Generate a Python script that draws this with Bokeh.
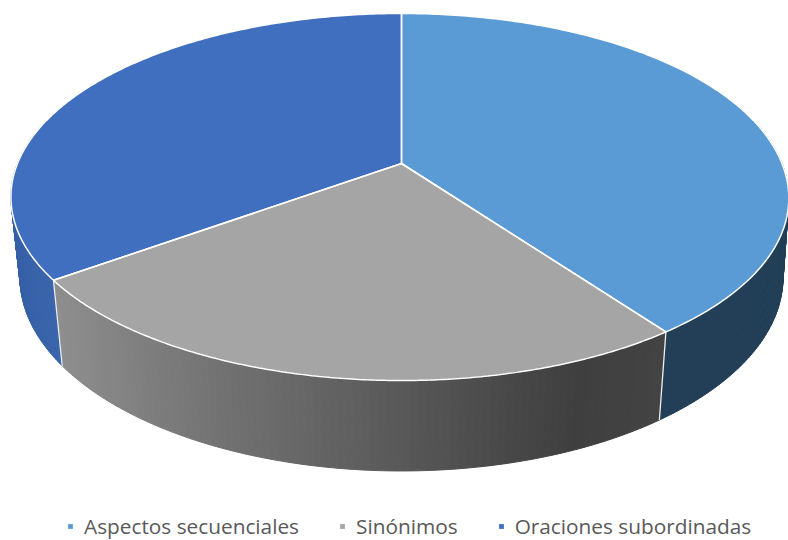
import numpy as np
from bokeh.plotting import figure
from bokeh.models import Legend, LegendItem, Range1d
from bokeh.embed import file_html
from bokeh.resources import INLINE

categories = ["Aspectos secuenciales", "Sinónimos", "Oraciones subordinadas"]
values = [40, 25, 35]
top_colors = ["#5B9BD5", "#A5A5A5", "#416FBF"]
# side shading: screen x stops and the colour at each stop, per slice
side_x = [[660, 790], [62, 150, 218, 376, 495, 574, 660], [10, 62]]
side_c = [["#223F57", "#223F57"],
          ["#8E8E8E", "#7E7E7E", "#737373", "#5C5C5C", "#4A4A4A", "#3F3F3F", "#434343"],
          ["#3660A6", "#3A64AB"]]

# perspective pie model
CX, CY = 401.0, 163.0
A, B, K = 384.0, 177.4, 0.1826
DEPTH, E = 81.0, 0.023

def top(t):
    u, v = np.sin(t), -np.cos(t)
    w = 1 - K * v
    squeeze = 3.5 * np.clip(u, 0, 1) ** 4
    return CX + A * u / w - squeeze, CY + B * v / w

def bottom(t):
    u, v = np.sin(t), -np.cos(t)
    w = 1 - K * v + E
    return CX + A * u / w, CY + (B * v + DEPTH) / w

def rgb(h):
    return [int(h[i:i + 2], 16) for i in (1, 3, 5)]

def shade(i, x):
    cs = np.array([rgb(c) for c in side_c[i]], float)
    c = [np.interp(x, side_x[i], cs[:, k]) for k in range(3)]
    return "#%02x%02x%02x" % tuple(int(round(v)) for v in c)

p = figure(width=788, height=540, output_backend="svg", toolbar_location=None,
           x_range=Range1d(0, 788), y_range=Range1d(540, 0), min_border=0,
           x_axis_location=None, y_axis_location=None)
p.grid.visible = False
p.outline_line_color = None

frac = np.array(values, float) / sum(values)
edges = np.concatenate([[0], np.cumsum(frac)]) * 2 * np.pi

# sides (front part only, drawn in strips so the shade can vary)
VIS0, VIS1 = np.radians(70), np.radians(290)
for i in range(3):
    a0, a1 = max(edges[i], VIS0), min(edges[i + 1], VIS1)
    if a1 <= a0:
        continue
    n = 90
    ts = np.linspace(a0, a1, n + 1)
    for j in range(n):
        tt = np.array([ts[j], ts[j + 1]])
        xt, yt = top(tt)
        xb, yb = bottom(tt)
        c = shade(i, 0.5 * (xb[0] + xb[1]))
        p.patch(list(xt) + list(xb[::-1]), list(yt) + list(yb[::-1]),
                fill_color=c, line_color=c, line_width=1)

# seams on the side
for e in [edges[1], edges[2]]:
    xt, yt = top(e)
    xb, yb = bottom(e)
    p.line([xt, xb], [yt, yb], line_color="#EDEDED", line_width=1.3)

# top faces
items = []
for i in range(3):
    ts = np.linspace(edges[i], edges[i + 1], 200)
    x, y = top(ts)
    xs = np.concatenate([[CX], x, [CX]])
    ys = np.concatenate([[CY], y, [CY]])
    r = p.patch(xs, ys, fill_color=top_colors[i], line_color=None)
    items.append(LegendItem(label=categories[i], renderers=[r]))
for i in range(3):
    ts = np.linspace(edges[i], edges[i + 1], 200)
    x, y = top(ts)
    xs = np.concatenate([[CX], x, [CX]])
    ys = np.concatenate([[CY], y, [CY]])
    p.line(xs, ys, line_color="white", line_width=1.5)

legend = Legend(items=items, orientation="horizontal", location=(67, 0),
                glyph_width=6, glyph_height=6, label_standoff=11, spacing=40,
                padding=0, margin=0, border_line_color=None, background_fill_alpha=0,
                label_text_font="Open Sans", label_text_font_size="20.8px",
                label_text_color="#595959", label_height=22)
p.add_layout(legend, "center")

open("out.html", "w").write(file_html(p, INLINE))
